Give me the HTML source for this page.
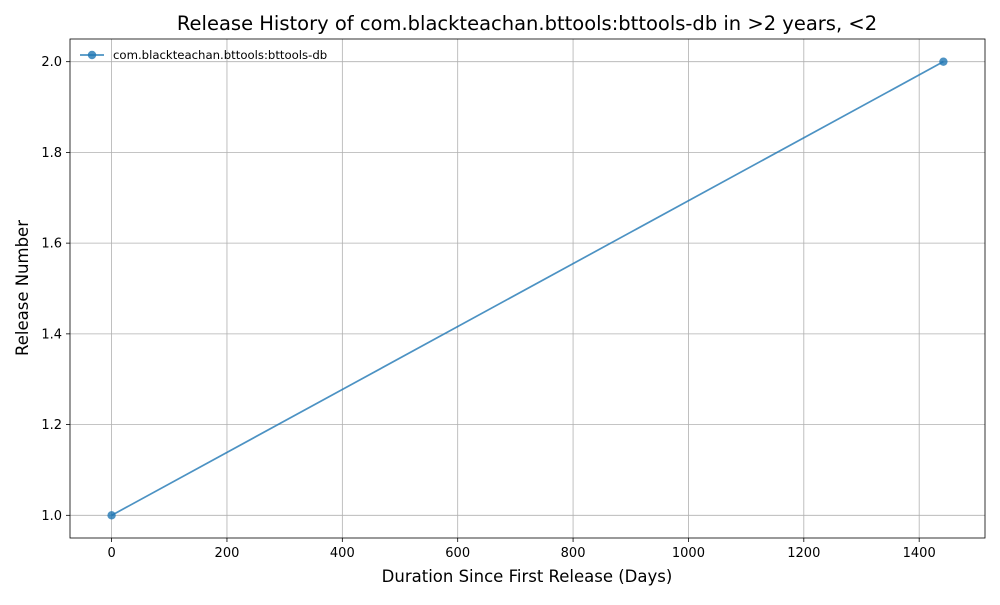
<!DOCTYPE html>
<html><head><meta charset="utf-8"><style>
body{margin:0;background:#fff;font-family:"Liberation Sans","DejaVu Sans",sans-serif}
svg text{font-family:"DejaVu Sans","Liberation Sans",sans-serif}
</style></head><body>
<svg id="chart" width="1000" height="600"></svg>
<script>
const xValues = [0, 1442];
const yValues = [1, 2];
const xTicks = [0, 200, 400, 600, 800, 1000, 1200, 1400];
const yTicks = [1.0, 1.2, 1.4, 1.6, 1.8, 2.0];
const seriesName = "com.blackteachan.bttools:bttools-db";

const L=70,R=985,T=39,B=538;
const xMin=-72.1,xMax=1514.1,yMin=0.95,yMax=2.05;
const sx=v=>L+(v-xMin)/(xMax-xMin)*(R-L);
const sy=v=>B-(v-yMin)/(yMax-yMin)*(B-T);
const NS="http://www.w3.org/2000/svg";
const svg=document.getElementById('chart');
function mk(tag,attrs,parent){const e=document.createElementNS(NS,tag);for(const k in attrs)e.setAttribute(k,attrs[k]);(parent||svg).appendChild(e);return e;}

xTicks.forEach(t=>{
  const g=mk('g',{});
  
  
  mk('line',{x1:sx(t),x2:sx(t),y1:T,y2:B,stroke:'#b0b0b0','stroke-width':0.8},g);
  mk('line',{x1:sx(t),x2:sx(t),y1:B,y2:B+4,stroke:'#000','stroke-width':0.8},g);
  const tx=mk('text',{x:sx(t),y:B+19,'text-anchor':'middle','font-size':13},g);tx.textContent=t;
});
yTicks.forEach(t=>{
  const g=mk('g',{});
  
  
  mk('line',{x1:L,x2:R,y1:sy(t),y2:sy(t),stroke:'#b0b0b0','stroke-width':0.8},g);
  mk('line',{x1:L-4,x2:L,y1:sy(t),y2:sy(t),stroke:'#000','stroke-width':0.8},g);
  const tx=mk('text',{x:L-8,y:sy(t)+4.5,'text-anchor':'end','font-size':13},g);tx.textContent=t.toFixed(1);
});
const box=mk('rect',{x:L,y:T,width:R-L,height:B-T,fill:'none',stroke:'#000','stroke-width':0.8});



const line=mk('polyline',{points:xValues.map((x,i)=>sx(x)+','+sy(yValues[i])).join(' '),fill:'none',stroke:'#1f77b4','stroke-opacity':0.8,'stroke-width':1.7});


xValues.forEach((x,i)=>{
  const c=mk('circle',{cx:sx(x),cy:sy(yValues[i]),r:4.2,fill:'#1f77b4','fill-opacity':0.8});
  
  
});

const lg=mk('g',{});


mk('line',{x1:80,x2:104,y1:55,y2:55,stroke:'#1f77b4','stroke-opacity':0.8,'stroke-width':1.7},lg);
mk('circle',{cx:92,cy:55,r:4.2,fill:'#1f77b4','fill-opacity':0.8},lg);
const lt=mk('text',{x:113,y:59,'font-size':11.7},lg);lt.textContent=seriesName;

const title=mk('text',{x:527,y:30,'text-anchor':'middle','font-size':19.5});
title.textContent="Release History of com.blackteachan.bttools:bttools-db in >2 years, <2";


const xl=mk('text',{x:527,y:582,'text-anchor':'middle','font-size':16.5});
xl.textContent="Duration Since First Release (Days)";


const yl=mk('text',{x:0,y:0,'text-anchor':'middle','font-size':16.5,transform:'translate(28,288) rotate(-90)'});
yl.textContent="Release Number";


</script>
</body></html>
